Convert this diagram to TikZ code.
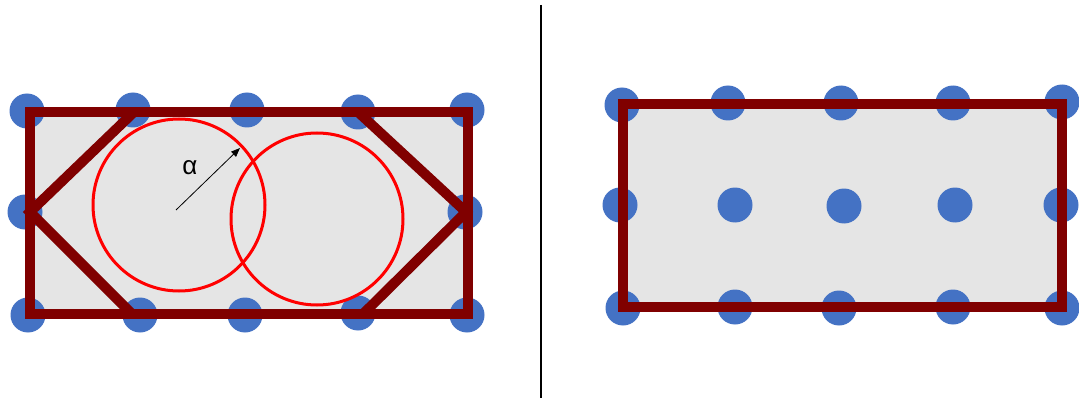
\documentclass[tikz,border=0pt]{standalone}
\usepackage{fontspec}
\setmainfont{Liberation Sans}
\usetikzlibrary{arrows.meta}
\definecolor{dotblue}{RGB}{68,114,196}
\definecolor{frame}{RGB}{128,0,0}
\definecolor{panel}{RGB}{229,229,229}
\tikzset{
  dot/.style={circle, fill=dotblue, minimum size=35pt, inner sep=0pt, draw=none},
  framebox/.style={draw=frame, line width=10pt, line join=miter},
  hexline/.style={draw=frame, line width=10pt, line cap=butt},
  ring/.style={draw=red, line width=3pt},
  divider/.style={draw=black, line width=2.5pt},
  radius arrow/.style={draw=black, line width=0.8pt, -{Triangle[length=9pt,width=7pt]}}
}
\begin{document}
\begin{tikzpicture}[x=1pt,y=-1pt]
\useasboundingbox (0,0) rectangle (1079,401);
% ---------- left panel ----------
\fill[panel] (30,112) rectangle (468,314);
\node[dot] (l11) at (27,111) {};
\node[dot] (l12) at (133,110) {};
\node[dot] (l13) at (247,110) {};
\node[dot] (l14) at (358,112) {};
\node[dot] (l15) at (467,110) {};
\node[dot] (l21) at (25,212) {};
\node[dot] (l25) at (465,212) {};
\node[dot] (l31) at (28,315) {};
\node[dot] (l32) at (140,315) {};
\node[dot] (l33) at (245,315) {};
\node[dot] (l34) at (358,313) {};
\node[dot] (l35) at (467,315) {};
\draw[framebox] (30,112) rectangle (468,314);
\coordinate (htl) at (134,112);
\coordinate (hml) at (30,212);
\coordinate (hbl) at (132,314);
\coordinate (htr) at (358,112);
\coordinate (hmr) at (466,212);
\coordinate (hbr) at (363,314);
\draw[hexline] (htl) -- (hml) -- (hbl);
\draw[hexline] (htr) -- (hmr) -- (hbr);
\draw[ring] (179,205) circle (86);
\draw[ring] (317,219) circle (86);
\coordinate (rc) at (176,210);
\coordinate (rt) at (240,148);
\draw[radius arrow] (rc) -- (rt);
\node[font=\fontsize{26}{28}\selectfont] (alpha) at (190,168) {α};
% ---------- divider ----------
\coordinate (dtop) at (541,5);
\coordinate (dbot) at (541,398);
\draw[divider] (dtop) -- (dbot);
% ---------- right panel ----------
\fill[panel] (623,104) rectangle (1062,307);
\node[dot] (r11) at (622,105) {};
\node[dot] (r12) at (728,103) {};
\node[dot] (r13) at (841,103) {};
\node[dot] (r14) at (953,103) {};
\node[dot] (r15) at (1062,102) {};
\node[dot] (r21) at (620,205) {};
\node[dot] (r22) at (735,205) {};
\node[dot] (r23) at (844,206) {};
\node[dot] (r24) at (955,205) {};
\node[dot] (r25) at (1061,205) {};
\node[dot] (r31) at (623,308) {};
\node[dot] (r32) at (735,307) {};
\node[dot] (r33) at (839,308) {};
\node[dot] (r34) at (953,307) {};
\node[dot] (r35) at (1062,308) {};
\draw[framebox] (623,104) rectangle (1062,307);
\end{tikzpicture}
\end{document}
